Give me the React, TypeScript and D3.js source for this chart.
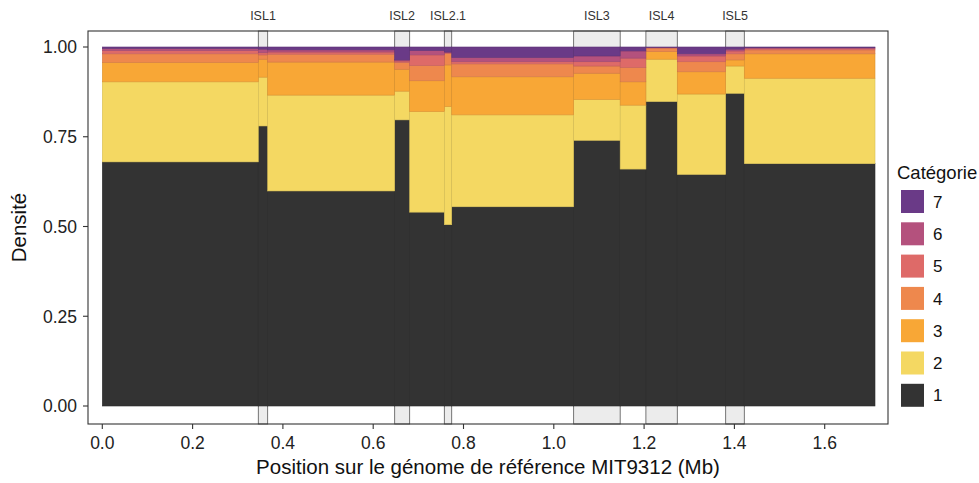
import React from "react";
import * as d3 from "d3";

// Segment boundaries along the reference genome (Mb)
const breaks = [0, 0.3455, 0.3663, 0.6476, 0.6808, 0.7575, 0.7739, 1.044, 1.147, 1.204, 1.2735, 1.3807, 1.4219, 1.7114];

// Genomic islands
const islNames = ["ISL1", "ISL2", "ISL2.1", "ISL3", "ISL4", "ISL5"];
const islStart = [0.3455, 0.6476, 0.7575, 1.044, 1.204, 1.3807];
const islEnd = [0.3663, 0.6808, 0.7739, 1.147, 1.2735, 1.4219];

// Density per category for each segment
const cat1 = [0.680, 0.780, 0.599, 0.797, 0.540, 0.505, 0.555, 0.740, 0.660, 0.848, 0.645, 0.871, 0.675];
const cat2 = [0.223, 0.136, 0.267, 0.080, 0.280, 0.329, 0.256, 0.114, 0.178, 0.118, 0.224, 0.076, 0.238];
const cat3 = [0.054, 0.050, 0.092, 0.061, 0.086, 0.116, 0.106, 0.073, 0.065, 0.021, 0.062, 0.017, 0.068];
const cat4 = [0.024, 0.012, 0.022, 0.019, 0.042, 0.032, 0.036, 0.020, 0.040, 0.010, 0.028, 0.017, 0.011];
const cat5 = [0.009, 0.006, 0.006, 0.004, 0.030, 0.002, 0.006, 0.012, 0.026, 0.001, 0.016, 0.008, 0.004];
const cat6 = [0.006, 0.010, 0.006, 0.003, 0.012, 0.002, 0.012, 0.016, 0.020, 0.001, 0.006, 0.005, 0.002];
const cat7 = [0.004, 0.006, 0.008, 0.036, 0.010, 0.014, 0.029, 0.025, 0.011, 0.001, 0.019, 0.006, 0.002];

const categories = ["1", "2", "3", "4", "5", "6", "7"];
const colors = ["#333333", "#f4d862", "#f8a736", "#ee884d", "#de6a68", "#b4517d", "#6a3a87"];

const xTicks = [0, 0.2, 0.4, 0.6, 0.8, 1.0, 1.2, 1.4, 1.6];
const yTicks = [0, 0.25, 0.5, 0.75, 1.0];

const W = 979;
const H = 483;
const panel = { left: 88, right: 888, top: 31, bottom: 424 };
const FONT = "'Liberation Sans', Arial, Helvetica, sans-serif";

export default function App() {
  const x = d3.scaleLinear().domain([0, 1.6]).range([102.3, 102.3 + 451.5 * 1.6]);
  const y = d3.scaleLinear().domain([0, 1]).range([406, 47]);

  const series = [cat1, cat2, cat3, cat4, cat5, cat6, cat7];
  const rows = cat1.map((_, i) => {
    const r: any = { x0: breaks[i], x1: breaks[i + 1] };
    categories.forEach((c, k) => (r[c] = series[k][i]));
    return r;
  });
  const stacked = d3.stack<any>().keys(categories)(rows);

  const legendY0 = 190;
  const legendStep = 32.3;

  return (
    <svg width={W} height={H} style={{ position: "absolute", left: 0, top: 0, fontFamily: FONT }}>
      <rect x={0} y={0} width={W} height={H} fill="#ffffff" />
      {/* ISL background rectangles */}
      {islNames.map((n, i) => (
        <rect
          key={"isl" + i}
          x={x(islStart[i])}
          y={panel.top}
          width={x(islEnd[i]) - x(islStart[i])}
          height={panel.bottom - panel.top}
          fill="#ececec"
          stroke="#555555"
          strokeWidth={0.8}
        />
      ))}
      {/* stacked bars */}
      {stacked.map((s, k) => (
        <g key={"s" + k}>
          {s.map((d, i) => {
            const col = colors[k];
            return (
              <rect
                key={i}
                x={x(d.data.x0)}
                y={y(d[1])}
                width={x(d.data.x1) - x(d.data.x0)}
                height={y(d[0]) - y(d[1])}
                fill={col}
                stroke={d3.color(col)!.darker(0.35).toString()}
                strokeWidth={0.6}
              />
            );
          })}
        </g>
      ))}
      {/* ISL labels */}
      {islNames.map((n, i) => (
        <text
          key={"lab" + i}
          x={(x(islStart[i]) + x(islEnd[i])) / 2}
          y={20}
          textAnchor="middle"
          fontSize={12.5}
          fill="#333333"
        >
          {n}
        </text>
      ))}
      {/* panel border */}
      <rect
        x={panel.left}
        y={panel.top}
        width={panel.right - panel.left}
        height={panel.bottom - panel.top}
        fill="none"
        stroke="#333333"
        strokeWidth={1.1}
      />
      {/* y axis */}
      {yTicks.map((t) => (
        <g key={"yt" + t}>
          <line x1={panel.left - 5} x2={panel.left} y1={y(t)} y2={y(t)} stroke="#333333" strokeWidth={1.1} />
          <text x={panel.left - 11} y={y(t)} dy="0.36em" textAnchor="end" fontSize={17.5} fill="#222222">
            {d3.format(".2f")(t)}
          </text>
        </g>
      ))}
      {/* x axis */}
      {xTicks.map((t) => (
        <g key={"xt" + t}>
          <line x1={x(t)} x2={x(t)} y1={panel.bottom} y2={panel.bottom + 5} stroke="#333333" strokeWidth={1.1} />
          <text x={x(t)} y={panel.bottom + 25} textAnchor="middle" fontSize={17.5} fill="#222222">
            {d3.format(".1f")(t)}
          </text>
        </g>
      ))}
      <text x={(panel.left + panel.right) / 2} y={474} textAnchor="middle" fontSize={20.5} fill="#111111">
        Position sur le génome de référence MIT9312 (Mb)
      </text>
      <text
        transform={`translate(26, ${(panel.top + panel.bottom) / 2}) rotate(-90)`}
        textAnchor="middle"
        fontSize={20.5}
        fill="#111111"
      >
        Densité
      </text>
      {/* legend */}
      <text x={897} y={179} fontSize={18.5} fill="#111111">
        Catégorie
      </text>
      {categories
        .slice()
        .reverse()
        .map((c, j) => {
          const k = categories.length - 1 - j;
          const yy = legendY0 + j * legendStep;
          return (
            <g key={"lg" + c}>
              <rect x={901} y={yy} width={23} height={23} fill={colors[k]} />
              <text x={933} y={yy + 11.5} dy="0.36em" fontSize={17} fill="#111111">
                {c}
              </text>
            </g>
          );
        })}
    </svg>
  );
}
